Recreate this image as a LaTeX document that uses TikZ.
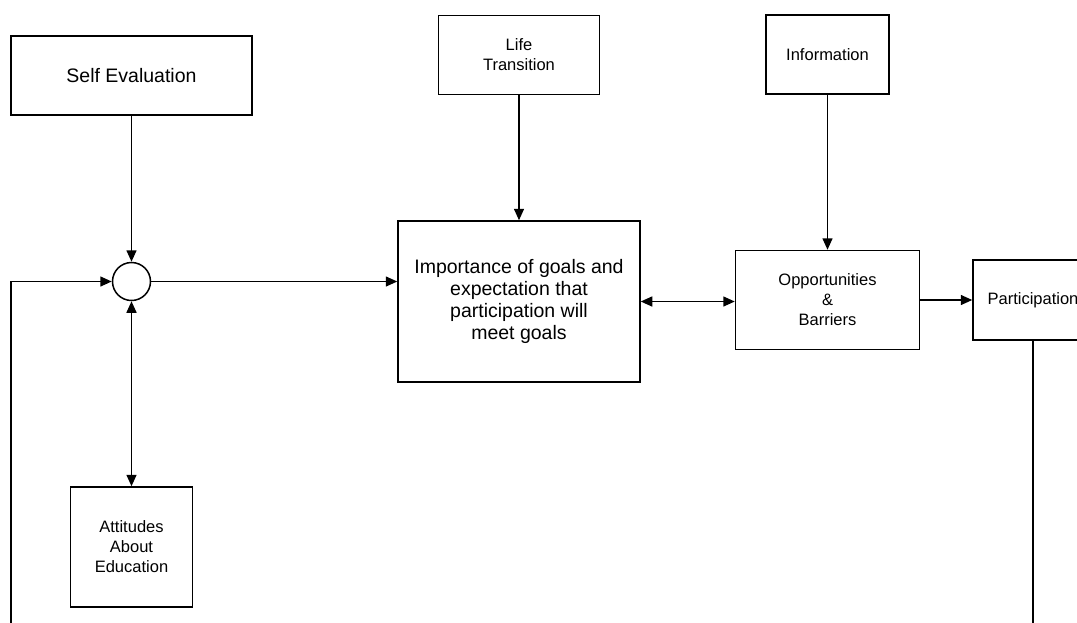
\documentclass[tikz,border=0pt]{standalone}
\usepackage{fontspec}
\setmainfont{Liberation Sans}
\usepackage{tikz}
\usetikzlibrary{arrows.meta, positioning}
\tikzset{
    box/.style={rectangle, draw=black, line width=1.5pt, inner sep=0pt, align=center},
    bigbox/.style={box, font=\fontsize{19.5}{21.7}\selectfont},
    smallbox/.style={box, font=\fontsize{16.5}{20}\selectfont},
    junction/.style={circle, draw=black, line width=1.5pt, minimum size=38pt, inner sep=0pt},
    arrow/.style={line width=1.5pt, -{Triangle[length=11.5pt, width=10pt]}},
    twoway/.style={line width=1.5pt, {Triangle[length=11.5pt, width=10pt]}-{Triangle[length=11.5pt, width=10pt]}},
    line/.style={line width=1.5pt}
}

\begin{document}
\begin{tikzpicture}
    \useasboundingbox (0,0) rectangle (1077pt,-622pt);
    \clip (0,0) rectangle (1077pt,-622pt);

    \node (selfev) [bigbox, minimum width=241pt, minimum height=79pt] at (131.5pt,-75.5pt) {Self Evaluation};
    \node (circ) [junction, below=146pt of selfev] {};
    \node (attit) [smallbox, minimum width=122pt, minimum height=120pt, below=185pt of circ] {Attitudes\\About\\Education};
    \node (imp) [bigbox, minimum width=242pt, minimum height=161pt, right=246pt of circ, yshift=-20pt] {Importance of goals and\\expectation that\\participation will\\meet goals};
    \node (life) [smallbox, minimum width=161pt, minimum height=79pt, above=125pt of imp] {Life\\Transition};
    \node (opp) [smallbox, minimum width=184pt, minimum height=99pt, right=94pt of imp, yshift=1.5pt] {Opportunities\\\&\\Barriers};
    \node (info) [smallbox, minimum width=123pt, minimum height=79pt, above=155pt of opp] {Information};
    \node (part) [smallbox, minimum width=120pt, minimum height=80pt, right=52pt of opp] {Participation};

    \coordinate (fbl) at (11pt,-640pt);
    \coordinate (pbot) at (part.south |- fbl);

    \draw [arrow] (selfev) -- (circ);
    \draw [twoway] (circ) -- (attit);
    \draw [arrow] (fbl) |- (circ.west);
    \draw [arrow] (circ.east) -- (circ.east -| imp.west);
    \draw [arrow] (life) -- (imp);
    \draw [twoway] (imp.east) -- (imp.east -| opp.west);
    \draw [arrow] (info) -- (opp);
    \draw [arrow] (opp.east) -- (opp.east -| part.west);
    \draw [line] (part) -- (pbot);
\end{tikzpicture}
\end{document}
